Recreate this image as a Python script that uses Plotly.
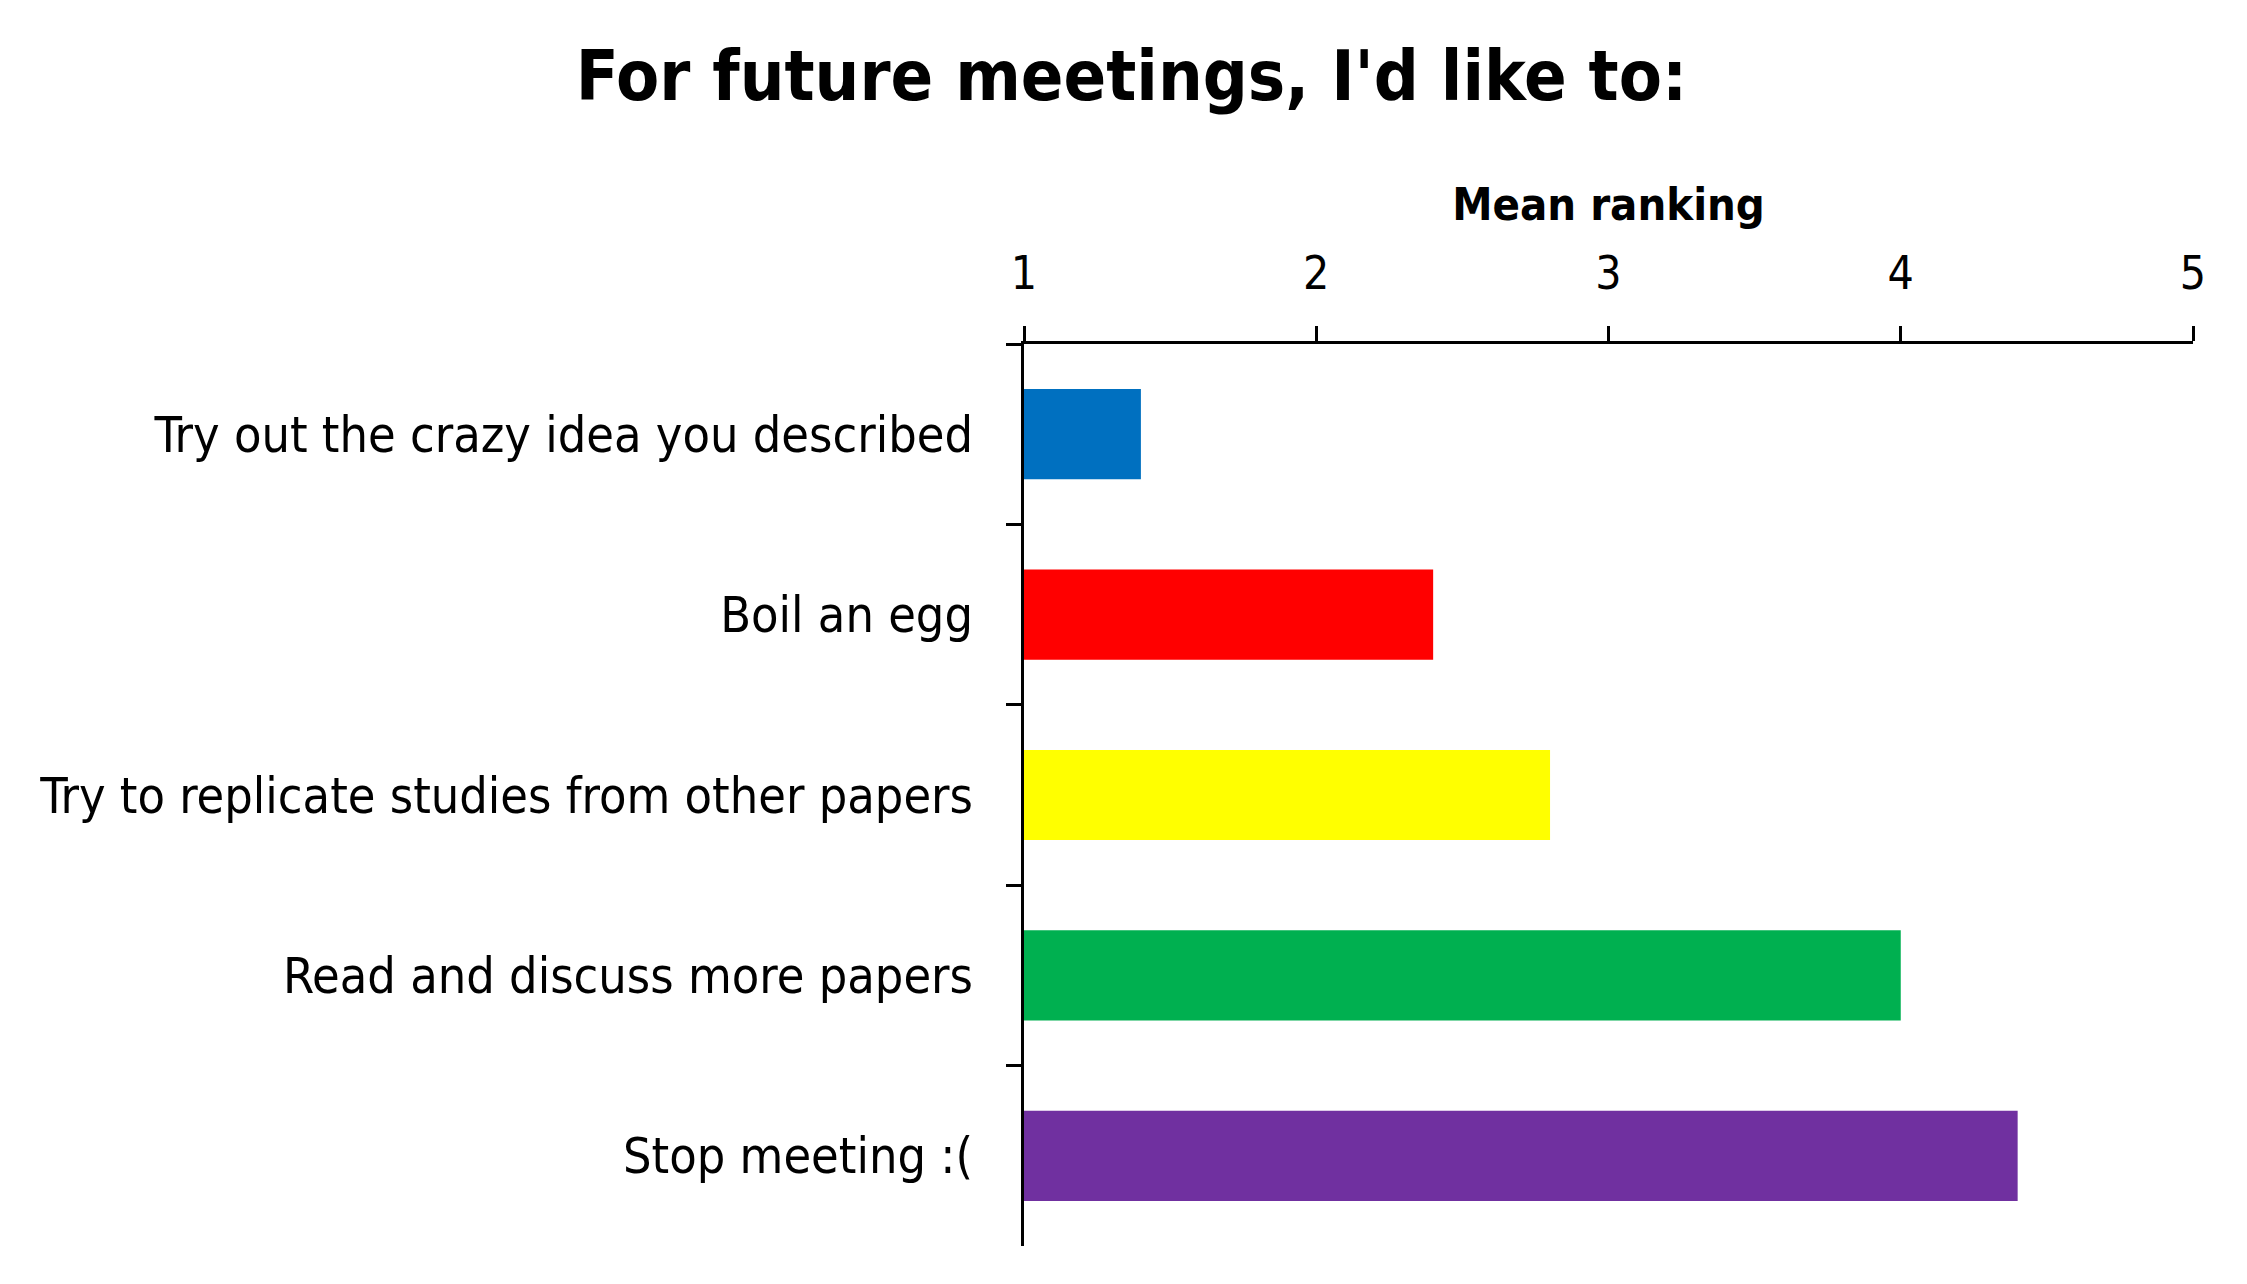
import plotly.graph_objects as go

# Survey options, top to bottom, with their mean ranking
options = [
    "Try out the crazy idea you described",
    "Boil an egg",
    "Try to replicate studies from other papers",
    "Read and discuss more papers",
    "Stop meeting :(",
]
mean_ranking = [1.4, 2.4, 2.8, 4.0, 4.4]
bar_colors = ["#0070C0", "#FF0000", "#FFFF00", "#00B050", "#7030A0"]
x_ticks = [1, 2, 3, 4, 5]

FONT = "DejaVu Sans Condensed, Tahoma, sans-serif"

fig = go.Figure()

fig.add_trace(go.Bar(
    y=options,
    x=mean_ranking,
    base=0,
    orientation="h",
    marker=dict(color=bar_colors, line=dict(width=0)),
    showlegend=False,
))

fig.update_layout(
    width=2247,
    height=1284,
    paper_bgcolor="white",
    plot_bgcolor="white",
    margin=dict(l=1016, r=62, t=336, b=46),
    bargap=0.5,
    font=dict(family=FONT, color="black", size=46),
    title=dict(
        text="<b>For future meetings, I'd like to:</b>",
        x=0.5, xref="container", xanchor="center",
        y=1 - 67 / 1284, yref="container", yanchor="middle",
        font=dict(family=FONT, size=70, color="black"),
    ),
)

fig.update_xaxes(
    side="top",
    range=[1, 5],
    tickvals=x_ticks,
    ticks="outside",
    ticklen=15,
    tickwidth=3,
    tickcolor="black",
    showline=True,
    linecolor="black",
    linewidth=3,
    showgrid=False,
    zeroline=False,
    ticklabelstandoff=19,
    tickfont=dict(size=46),
    title=dict(text="<b>Mean ranking</b>", standoff=11,
               font=dict(size=45)),
)

fig.update_yaxes(
    type="category",
    autorange="reversed",
    ticks="outside",
    tickson="boundaries",
    ticklen=15,
    tickwidth=3,
    tickcolor="black",
    showline=True,
    linecolor="black",
    linewidth=3,
    showgrid=False,
    zeroline=False,
    ticklabelstandoff=38,
    tickfont=dict(size=50),
)

fig.write_html("out.html")
